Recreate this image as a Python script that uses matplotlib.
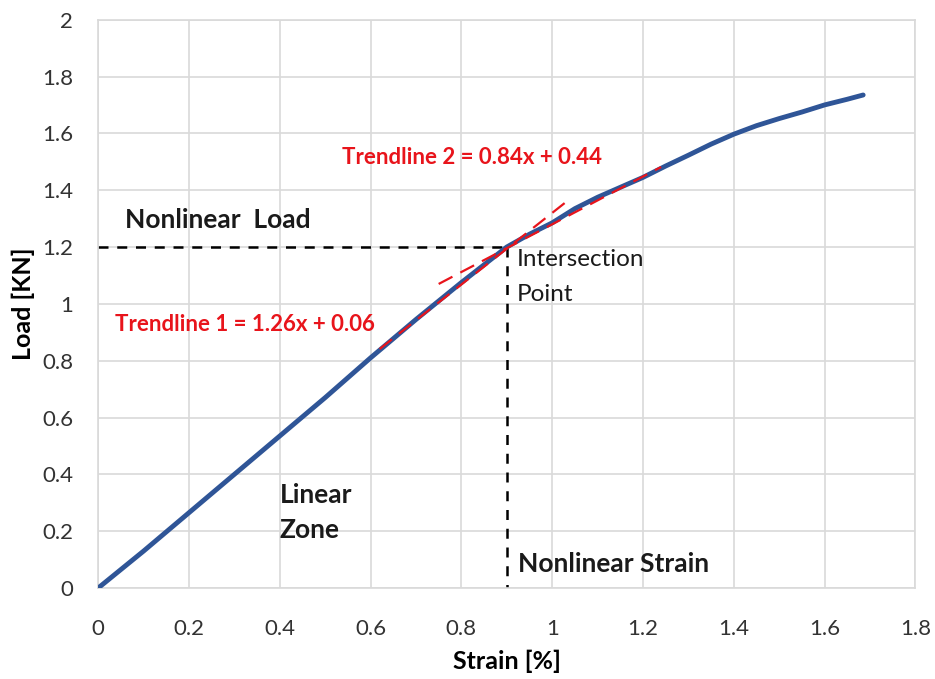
import matplotlib.pyplot as plt

# load-strain curve
strain = [0, 0.1, 0.2, 0.3, 0.4, 0.5, 0.6, 0.7, 0.8, 0.9, 0.95, 1.0, 1.05, 1.1,
          1.15, 1.2, 1.25, 1.3, 1.35, 1.4, 1.45, 1.5, 1.55, 1.6, 1.65, 1.685]
load = [0.0, 0.13, 0.265, 0.40, 0.535, 0.67, 0.81, 0.945, 1.075, 1.2, 1.245, 1.285,
        1.335, 1.375, 1.41, 1.445, 1.485, 1.523, 1.562, 1.597, 1.627, 1.652, 1.675,
        1.70, 1.72, 1.735]

# trendlines: slope, intercept, x range drawn
trend1 = (1.26, 0.06, [0.62, 1.03])
trend2 = (0.84, 0.44, [0.75, 1.24])

intersection = (0.9, 1.2)

xticks = [0, 0.2, 0.4, 0.6, 0.8, 1, 1.2, 1.4, 1.6, 1.8]
yticks = [0, 0.2, 0.4, 0.6, 0.8, 1, 1.2, 1.4, 1.6, 1.8, 2]

plt.rcParams["font.family"] = ["Lato", "DejaVu Sans"]

fig = plt.figure(figsize=(9.35, 6.79), dpi=100)
ax = fig.add_axes([0.105, 0.134, 0.874, 0.837])

ax.plot(strain, load, color="#2F5597", linewidth=3.5, solid_capstyle="round", zorder=3)

for slope, icpt, xr in (trend1, trend2):
    ax.plot(xr, [slope * x + icpt for x in xr], color="#E8141B", linewidth=1.6,
            dashes=(7, 4), zorder=4)

ix, iy = intersection
ax.plot([0, ix], [iy, iy], color="black", linewidth=1.8, dashes=(4, 3.5), zorder=2)
ax.plot([ix, ix], [iy, 0], color="black", linewidth=1.8, dashes=(4, 3.5), zorder=2)

dark = "#1a1a1a"
red = "#E8141B"
ax.text(0.059, 1.296, "Nonlinear  Load", fontsize=19, fontweight="bold", va="center", color=dark)
ax.text(0.537, 1.514, "Trendline 2 = 0.84x + 0.44", fontsize=16, fontweight="bold",
        color=red, va="center")
ax.text(0.037, 0.926, "Trendline 1 = 1.26x + 0.06", fontsize=16, fontweight="bold",
        color=red, va="center")
ax.text(0.922, 1.155, "Intersection", fontsize=17.5, va="center", color=dark)
ax.text(0.922, 1.032, "Point", fontsize=17.5, va="center", color=dark)
ax.text(0.40, 0.327, "Linear", fontsize=19, fontweight="bold", va="center", color=dark)
ax.text(0.40, 0.204, "Zone", fontsize=19, fontweight="bold", va="center", color=dark)
ax.text(0.925, 0.085, "Nonlinear Strain", fontsize=19, fontweight="bold", va="center",
        color=dark)

ax.set_xlim(0, 1.8)
ax.set_ylim(0, 2)
ax.set_xticks(xticks)
ax.set_yticks(yticks)
ax.set_xticklabels([f"{t:g}" for t in xticks])
ax.set_yticklabels([f"{t:g}" for t in yticks])
ax.tick_params(length=0, labelsize=16, labelcolor="#333333")
ax.tick_params(axis="x", pad=22)
ax.tick_params(axis="y", pad=18)
ax.grid(True, color="#d9d9d9", linewidth=1.2)
ax.set_axisbelow(True)
for s in ax.spines.values():
    s.set_color("#d9d9d9")
    s.set_linewidth(1.2)

ax.set_xlabel("Strain [%]", fontsize=18, fontweight="bold", labelpad=8)
ax.set_ylabel("Load [KN]", fontsize=18, fontweight="bold", labelpad=5)

fig.savefig("out.png", dpi=100)
